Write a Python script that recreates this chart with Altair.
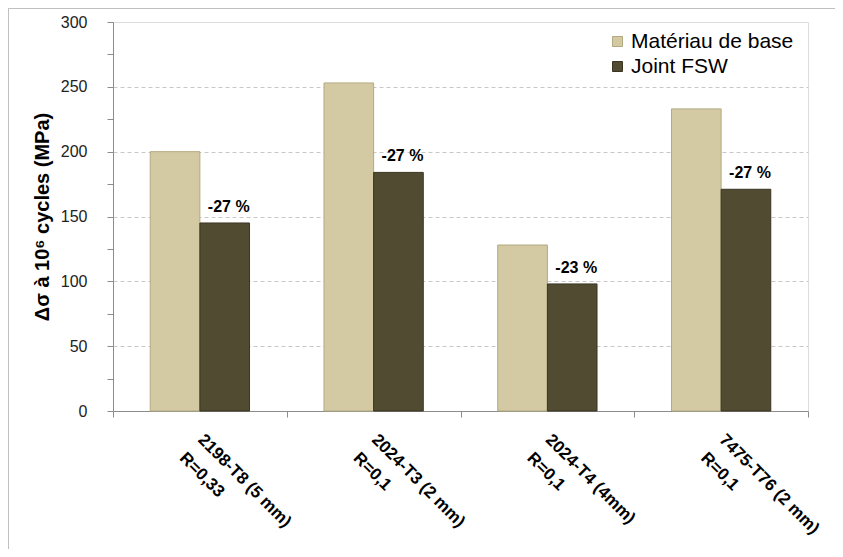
import altair as alt
import pandas as pd

categories = ["2198-T8 (5 mm)|R=0,33", "2024-T3 (2 mm)|R=0,1", "2024-T4 (4mm)|R=0,1", "7475-T76 (2 mm)|R=0,1"]
series = ["Matériau de base", "Joint FSW"]
base_values = [200, 253, 128, 233]
joint_values = [145, 184, 98, 171]
reductions = ["-27 %", "-27 %", "-23 %", "-27 %"]
y_ticks = list(range(0, 301, 25))
fill_colors = ["#D3CAA4", "#514B31"]
edge_colors = ["#B3A97F", "#3A3522"]

rows = []
for c, b, j, r in zip(categories, base_values, joint_values, reductions):
    rows.append({"cat": c, "serie": series[0], "val": b, "lab": ""})
    rows.append({"cat": c, "serie": series[1], "val": j, "lab": r})
df = pd.DataFrame(rows)

FONT = "Liberation Sans"
AXIS_GRAY = "#8c8c8c"

x_enc = alt.X(
    "cat:N", sort=categories,
    scale=alt.Scale(paddingInner=0, paddingOuter=0),
    axis=alt.Axis(
        title=None,
        labelExpr="datum.label ? [split(datum.label, '|')[0], '\u00a0\u00a0\u00a0\u00a0\u00a0\u00a0' + split(datum.label, '|')[1]] : ''",
        labelAngle=45,
        labelAlign="left", labelBaseline="top", labelFontSize=17,
        labelFontWeight="bold", labelColor="black", labelFont=FONT,
        labelLineHeight=26, labelPadding=14, labelOffset=6,
        tickBand="extent", tickSize=6, tickColor=AXIS_GRAY,
        domainColor=AXIS_GRAY, grid=False,
    ),
)
xoff_enc = alt.XOffset(
    "serie:N", sort=series,
    scale=alt.Scale(domain=series, paddingInner=0, paddingOuter=0.75),
)
y_enc = alt.Y(
    "val:Q",
    scale=alt.Scale(domain=[0, 300], nice=False),
    axis=alt.Axis(
        values=y_ticks,
        labelExpr="datum.value % 50 == 0 ? datum.label : ''",
        title="Δσ à 10⁶ cycles (MPa)", titleFontSize=20, titleFontWeight="bold",
        titleColor="black", titleFont=FONT, titlePadding=8,
        labelFontSize=16, labelColor="#222222", labelFont=FONT, labelPadding=20,
        tickSize=6, tickColor=AXIS_GRAY, domainColor=AXIS_GRAY,
        gridColor="#c8c8c8", gridDash=[4, 3],
        gridOpacity={"condition": {"test": "datum.value % 50 == 0 && datum.value > 0 && datum.value < 300", "value": 1}, "value": 0},
    ),
)

bars = alt.Chart(df).mark_bar(strokeWidth=1).encode(
    x=x_enc,
    xOffset=xoff_enc,
    y=y_enc,
    color=alt.Color(
        "serie:N", sort=series,
        scale=alt.Scale(domain=series, range=fill_colors),
        legend=alt.Legend(
            title=None, orient="none", legendX=494, legendY=9,
            symbolType="square", symbolSize=100, symbolStrokeWidth=1,
            labelFontSize=21, labelFont=FONT, labelColor="black", labelLimit=400,
            rowPadding=3, padding=0, labelOffset=3,
        ),
    ),
    stroke=alt.Stroke("serie:N", sort=series, scale=alt.Scale(domain=series, range=edge_colors), legend=None),
)

text = alt.Chart(df).transform_filter("datum.lab != ''").mark_text(
    fontSize=16, fontWeight="bold", baseline="bottom", dy=-8, dx=4,
    font=FONT, color="black",
).encode(x=x_enc, xOffset=xoff_enc, y=y_enc, text="lab:N")

frame_df = pd.DataFrame({"k": [0]})
frame_top = alt.Chart(frame_df).mark_rule(color="#c0c0c0", strokeWidth=1).encode(
    x=alt.value(-105), x2=alt.value(722), y=alt.value(-13.5)
)
frame_left = alt.Chart(frame_df).mark_rule(color="#c0c0c0", strokeWidth=1).encode(
    x=alt.value(-104.5), y=alt.value(-14), y2=alt.value(527)
)

chart = alt.layer(bars, text, frame_top, frame_left).properties(
    width=695, height=389,
    autosize=alt.AutoSizeParams(type="none"),
    padding={"left": 105, "top": 14, "right": 27, "bottom": 138},
).configure_view(stroke="#7f7f7f").configure(font=FONT, background="white")

chart.save("out.html", embed_options={"renderer": "svg", "actions": False})
